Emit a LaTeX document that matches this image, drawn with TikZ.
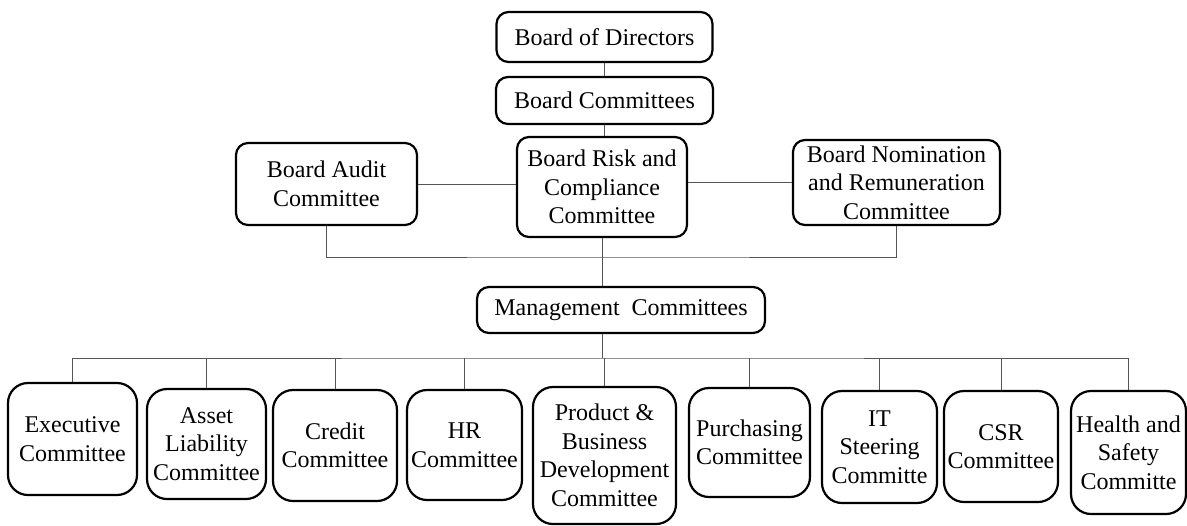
\documentclass[tikz,border=0pt]{standalone}
\usepackage{fontspec}
\setmainfont{Liberation Serif}
\usepackage{pgf,tikz}
\usetikzlibrary{arrows}
\definecolor{L}{RGB}{85, 85, 85}

\tikzset{
  box/.style={draw=black, line width=1.1pt, rounded corners=6pt, inner sep=1pt,
    align=center, font=\fontsize{12}{14.25}\selectfont},
  cbox/.style={box, rounded corners=10pt},
  link/.style={draw=L, line width=0.5pt}
}

\begin{document}
\begin{tikzpicture}[x=0.5pt,y=-0.5pt]
  \useasboundingbox (0,0) rectangle (1187,525);

  % board level
  \node[box, minimum width=108pt, minimum height=25pt] (bod) at (604.5,37) {Board of Directors};
  \node[box, minimum width=108.5pt, minimum height=23.5pt] (bc) at (604.5,100.5) {Board Committees};
  \node[box, minimum width=90.5pt, minimum height=41pt] (audit) at (326.5,184) {Board Audit\\Committee};
  \node[box, minimum width=85pt, minimum height=50pt] (risk) at (602,187) {Board Risk and\\Compliance\\Committee};
  \node[box, minimum width=103.5pt, minimum height=42.5pt] (nom) at (896.5,182.5) {Board Nomination\\and Remuneration\\Committee};
  \node[box, minimum width=144pt, minimum height=23pt] (mgmt) at (621,310) {Management\ \ Committees};

  % management committees
  \node[cbox, minimum width=64.5pt, minimum height=56pt] (exec) at (72.5,439) {Executive\\Committee};
  \node[cbox, minimum width=59.5pt, minimum height=55pt] (asset) at (206.5,444) {Asset\\Liability\\Committee};
  \node[cbox, minimum width=62pt, minimum height=55.5pt] (credit) at (335,445.5) {Credit\\Committee};
  \node[cbox, minimum width=57.5pt, minimum height=55pt] (hr) at (464.5,445) {HR\\Committee};
  \node[cbox, minimum width=71.5pt, minimum height=68.5pt] (prod) at (604.5,455.5) {Product \&\\Business\\Development\\Committee};
  \node[cbox, minimum width=60.5pt, minimum height=54.5pt] (purch) at (749.5,442.5) {Purchasing\\Committee};
  \node[cbox, minimum width=57.5pt, minimum height=56pt] (it) at (879.5,447) {IT\\Steering\\Committe};
  \node[cbox, minimum width=57pt, minimum height=55.5pt] (csr) at (1001,446.5) {CSR\\Committee};
  \node[cbox, minimum width=57.5pt, minimum height=61.5pt] (health) at (1128.5,452.5) {Health and\\Safety\\Committe};

  \coordinate (bbus) at (605,257);
  \coordinate (mbus) at (605,358);

  \draw[link] (bod) -- (bc);
  \draw[link] (bc) -- (bc |- risk.north);
  \draw[link] (audit.east) -- (audit.east -| risk.west);
  \draw[link] (nom.west -| risk.east) -- (nom.west);
  \draw[link] (audit.south) |- (bbus) -| (nom.south);
  \draw[link] (risk.south) -- (risk.south |- mgmt.north);
  \draw[link] (risk.south |- mgmt.south) -- (risk.south |- mbus);
  \draw[link] (exec.north) |- (mbus) -| (health.north);
  \foreach \n in {asset,credit,hr,prod,purch,it,csr}
    \draw[link] (\n.north) -- (\n.north |- mbus);
\end{tikzpicture}
\end{document}
